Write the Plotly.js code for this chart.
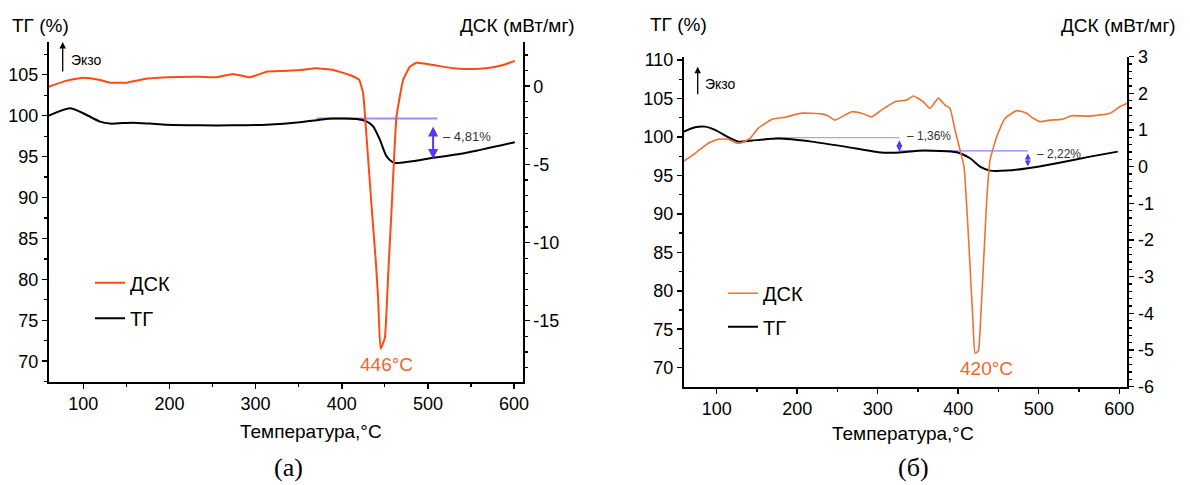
<!DOCTYPE html>
<html>
<head>
<meta charset="utf-8">
<script src="https://cdn.plot.ly/plotly-3.0.1.min.js"></script>
<style>html,body{margin:0;padding:0;background:#fff;}#chart{width:1190px;height:485px;}</style>
</head>
<body>
<div id="chart"></div>
<script>
// ---------- Panel (a) data ----------
const tempA_TG = [60, 84.6, 100, 119.4, 131, 157.6, 177.4, 196.7, 235.4, 273.9, 312.7, 351.4, 374.6, 390, 417.1, 428.7, 436.4, 444.2, 451.9, 460.8, 506, 544.7, 600.8];
const tgA = [100.0, 100.9, 100.3, 99.27, 99.03, 99.15, 99.03, 98.9, 98.82, 98.82, 98.9, 99.19, 99.5, 99.64, 99.6, 99.31, 98.7, 97.08, 95.05, 94.24, 94.85, 95.46, 96.75];
const tempA_DSC = [60, 80.7, 100, 119.4, 131, 150.3, 169.6, 196.7, 235.4, 254.7, 274, 293.4, 312.7, 332, 351.4, 370.8, 390, 409.4, 420.2, 424.8, 428.7, 434.5, 439.5, 442.2, 445, 450, 453.9, 455.8, 457.7, 463.5, 471.2, 479, 486.7, 506, 529.2, 544.7, 567.9, 587.2, 600.8];
const dscA = [-0.03, 0.36, 0.55, 0.4, 0.23, 0.23, 0.45, 0.57, 0.61, 0.57, 0.79, 0.57, 0.93, 0.98, 1.04, 1.15, 1.04, 0.72, 0.4, -0.45, -3.2, -7.6, -11.2, -13.6, -16.8, -16.1, -12.0, -10.0, -8.0, -1.94, 0.4, 1.25, 1.5, 1.36, 1.15, 1.1, 1.15, 1.36, 1.62];

// ---------- Panel (б) data ----------
const tempB_TG = [59.4, 73.1, 85.5, 97.9, 114.4, 126.9, 143.5, 176.5, 218, 259.4, 300.8, 321.5, 356.7, 398.2, 414.7, 427.1, 439.5, 460.3, 486.4, 522.4, 563.8, 598.2];
const tgB = [100.69, 101.26, 101.34, 100.91, 99.96, 99.39, 99.52, 99.78, 99.39, 98.74, 98.01, 97.95, 98.22, 98.01, 97.23, 96.14, 95.62, 95.62, 95.93, 96.58, 97.44, 98.09];
const tempB_DSC = [59.4, 73.1, 89.6, 102, 114.4, 124.9, 131.1, 141.4, 151.7, 168.3, 184.9, 205.6, 230.5, 238.7, 247.0, 267.7, 280.1, 292.6, 305, 321.5, 336, 344.2, 356.7, 365, 375.3, 383.6, 389.8, 396, 402.3, 407.2, 411.3, 414.7, 418, 420.9, 425, 428, 431.2, 435.4, 439.5, 447.8, 458.1, 472.6, 485, 493.3, 501.6, 514, 528.5, 540.9, 563.8, 588.6, 601, 610];
const dscB = [0.155, 0.365, 0.64, 0.75, 0.75, 0.64, 0.655, 0.775, 1.05, 1.29, 1.35, 1.46, 1.44, 1.38, 1.27, 1.5, 1.46, 1.36, 1.55, 1.77, 1.82, 1.93, 1.77, 1.59, 1.87, 1.68, 1.59, 1.0, 0.455, 0.0, -1.36, -2.73, -4.09, -5.09, -5.02, -4.09, -2.73, -0.91, 0.18, 0.82, 1.32, 1.53, 1.46, 1.32, 1.23, 1.27, 1.29, 1.39, 1.38, 1.46, 1.64, 1.73];

// ---------- Tick labels ----------
const dscTicksA = [0, -5, -10, -15];
const dscTickTextA = ['0', '-5', '-10', '-15'];
const dscTicksB = [3, 2, 1, 0, -1, -2, -3, -4, -5, -6];
const dscTickTextB = ['3', '2', '1', '0', '-1', '-2', '-3', '-4', '-5', '-6'];

// ---------- Annotation values ----------
const peakA = {t: 446, label: '446°C'};
const peakB = {t: 420, label: '420°C'};
const stepA = {t0: 370.8, t1: 511, level: 99.64, arrowT: 506, arrowTop: 98.87, arrowBot: 94.7, label: '– 4,81%'};
const stepB1 = {t0: 172.4, t1: 326.9, level: 99.9, arrowT: 326.9, arrowTop: 99.75, arrowBot: 98.09, label: '– 1,36%'};
const stepB2 = {t0: 326.9, t1: 486.4, level: 98.18, arrowT: 486.4, arrowTop: 98.05, arrowBot: 96.14, label: '– 2,22%'};

const W = 1190, H = 485;
const px = v => v / W;
const py = v => 1 - v / H;

const FONT = 'Liberation Sans, Arial, sans-serif';
const orangeA = '#FF4A12';
const orangeB = '#F07232';
const purple = '#5B36F2';
const purpleLine = '#9E88FF';

const traces = [
  {x: tempA_DSC, y: dscA, xaxis: 'x', yaxis: 'y2', type: 'scatter', mode: 'lines', name: 'ДСК',
   line: {color: orangeA, width: 2, shape: 'spline', smoothing: 0.35}, legend: 'legend'},
  {x: tempA_TG, y: tgA, xaxis: 'x', yaxis: 'y', type: 'scatter', mode: 'lines', name: 'ТГ',
   line: {color: '#000', width: 2, shape: 'spline', smoothing: 0.6}, legend: 'legend2'},
  {x: tempB_DSC, y: dscB, xaxis: 'x2', yaxis: 'y4', type: 'scatter', mode: 'lines', name: 'ДСК',
   line: {color: orangeB, width: 1.6, shape: 'spline', smoothing: 0.4}, legend: 'legend3'},
  {x: tempB_TG, y: tgB, xaxis: 'x2', yaxis: 'y3', type: 'scatter', mode: 'lines', name: 'ТГ',
   line: {color: '#000', width: 2, shape: 'spline', smoothing: 0.6}, legend: 'legend4'}
];

const tickFont = {family: FONT, size: 18, color: '#000'};
function xAxis(domain, range, anchor) {
  return {domain, range, anchor, showline: true, linewidth: 2, linecolor: '#000', mirror: false,
    ticks: 'outside', ticklen: 5, tickwidth: 1.5, tickcolor: '#000', tick0: 0, dtick: 100,
    minor: {ticks: 'outside', ticklen: 3, tickwidth: 1.2, tickcolor: '#000', dtick: 50},
    showgrid: false, zeroline: false, tickfont: tickFont, fixedrange: true};
}
function yLeft(domain, range, anchor) {
  return {domain, range, anchor, side: 'left', showline: true, linewidth: 2, linecolor: '#000',
    ticks: 'outside', ticklen: 5, tickwidth: 1.5, tickcolor: '#000', tick0: 0, dtick: 5,
    minor: {ticks: 'outside', ticklen: 3, tickwidth: 1.2, tickcolor: '#000', dtick: 2.5},
    showgrid: false, zeroline: false, tickfont: tickFont, fixedrange: true};
}
function yRight(overlay, range, anchor, vals, text, minorDtick) {
  return {overlaying: overlay, side: 'right', anchor, range, showline: true, linewidth: 2, linecolor: '#000',
    ticks: 'outside', ticklen: 5, tickwidth: 1.5, tickcolor: '#000', tickmode: 'array', tickvals: vals, ticktext: text,
    minor: {ticks: 'outside', ticklen: 3, tickwidth: 1.2, tickcolor: '#000', tickmode: 'linear', tick0: 0, dtick: minorDtick},
    showgrid: false, zeroline: false, tickfont: tickFont, fixedrange: true};
}

function legendAt(xp, yp) {
  return {x: px(xp), y: py(yp), xanchor: 'left', yanchor: 'middle', bgcolor: 'rgba(0,0,0,0)',
    borderwidth: 0, font: {family: FONT, size: 20, color: '#000'}};
}

const titleFont = {family: FONT, size: 19, color: '#000'};
const annotations = [
  // axis titles
  {xref: 'paper', yref: 'paper', x: px(10), y: py(25), xanchor: 'left', yanchor: 'middle', text: 'ТГ (%)', showarrow: false, font: titleFont},
  {xref: 'paper', yref: 'paper', x: px(577), y: py(25), xanchor: 'right', yanchor: 'middle', text: 'ДСК (мВт/мг)', showarrow: false, font: titleFont},
  {xref: 'paper', yref: 'paper', x: px(311), y: py(431), xanchor: 'center', yanchor: 'middle', text: 'Температура,°C', showarrow: false, font: {family: FONT, size: 19, color: '#000'}},
  {xref: 'paper', yref: 'paper', x: px(648), y: py(24), xanchor: 'left', yanchor: 'middle', text: 'ТГ (%)', showarrow: false, font: titleFont},
  {xref: 'paper', yref: 'paper', x: px(1178), y: py(25), xanchor: 'right', yanchor: 'middle', text: 'ДСК (мВт/мг)', showarrow: false, font: titleFont},
  {xref: 'paper', yref: 'paper', x: px(903), y: py(433), xanchor: 'center', yanchor: 'middle', text: 'Температура,°C', showarrow: false, font: {family: FONT, size: 19, color: '#000'}},
  // panel labels
  {xref: 'paper', yref: 'paper', x: px(288), y: py(467), xanchor: 'center', yanchor: 'middle', text: '(a)', showarrow: false, font: {family: 'Liberation Serif, Times New Roman, serif', size: 26, color: '#000'}},
  {xref: 'paper', yref: 'paper', x: px(913), y: py(467), xanchor: 'center', yanchor: 'middle', text: '(б)', showarrow: false, font: {family: 'Liberation Serif, Times New Roman, serif', size: 26, color: '#000'}},
  // Exo arrows
  {xref: 'paper', yref: 'paper', x: px(62.7), y: py(42), axref: 'pixel', ayref: 'pixel', ax: 0, ay: 31, text: '', showarrow: true, arrowhead: 2, arrowsize: 1, arrowwidth: 1.3, arrowcolor: '#000'},
  {xref: 'paper', yref: 'paper', x: px(69), y: py(60), xanchor: 'left', yanchor: 'middle', text: 'Экзо', showarrow: false, font: {family: FONT, size: 14, color: '#000'}},
  {xref: 'paper', yref: 'paper', x: px(697.7), y: py(66.7), axref: 'pixel', ayref: 'pixel', ax: 0, ay: 29, text: '', showarrow: true, arrowhead: 2, arrowsize: 1, arrowwidth: 1.3, arrowcolor: '#000'},
  {xref: 'paper', yref: 'paper', x: px(703), y: py(84), xanchor: 'left', yanchor: 'middle', text: 'Экзо', showarrow: false, font: {family: FONT, size: 14, color: '#000'}},
  // peak labels
  {xref: 'x', yref: 'y2', x: peakA.t + 6, y: -17.8, text: peakA.label, showarrow: false, xanchor: 'center', yanchor: 'middle', font: {family: FONT, size: 19, color: '#F0682E'}},
  {xref: 'x2', yref: 'y4', x: peakB.t + 15.4, y: -5.5, text: peakB.label, showarrow: false, xanchor: 'center', yanchor: 'middle', font: {family: FONT, size: 19, color: '#F0682E'}},
  // step arrows
  {xref: 'x', yref: 'y', axref: 'x', ayref: 'y', x: stepA.arrowT, y: stepA.arrowBot, ax: stepA.arrowT, ay: stepA.arrowTop, text: '', showarrow: true, arrowhead: 2, startarrowhead: 2, arrowside: 'end+start', arrowsize: 1, arrowwidth: 2, arrowcolor: purple},
  {xref: 'x', yref: 'y', x: stepA.t1 + 4, y: 97.48, text: stepA.label, showarrow: false, xanchor: 'left', yanchor: 'middle', font: {family: FONT, size: 13, color: '#333'}},
  {xref: 'x2', yref: 'y3', axref: 'x2', ayref: 'y3', x: stepB1.arrowT, y: stepB1.arrowBot, ax: stepB1.arrowT, ay: stepB1.arrowTop, text: '', showarrow: true, arrowhead: 2, startarrowhead: 2, arrowside: 'end+start', arrowsize: 0.8, arrowwidth: 1.5, arrowcolor: purple},
  {xref: 'x2', yref: 'y3', x: stepB1.t1 + 7, y: 100.13, text: stepB1.label, showarrow: false, xanchor: 'left', yanchor: 'middle', font: {family: FONT, size: 12, color: '#333'}},
  {xref: 'x2', yref: 'y3', axref: 'x2', ayref: 'y3', x: stepB2.arrowT, y: stepB2.arrowBot, ax: stepB2.arrowT, ay: stepB2.arrowTop, text: '', showarrow: true, arrowhead: 2, startarrowhead: 2, arrowside: 'end+start', arrowsize: 0.8, arrowwidth: 1.5, arrowcolor: purple},
  {xref: 'x2', yref: 'y3', x: stepB2.t1 + 9, y: 97.79, text: stepB2.label, showarrow: false, xanchor: 'left', yanchor: 'middle', font: {family: FONT, size: 12, color: '#333'}}
];

const shapes = [
  {type: 'line', xref: 'x', yref: 'y', x0: stepA.t0, x1: stepA.t1, y0: stepA.level, y1: stepA.level, line: {color: purpleLine, width: 2}, layer: 'below'},
  {type: 'line', xref: 'x2', yref: 'y3', x0: stepB1.t0, x1: stepB1.t1, y0: stepB1.level, y1: stepB1.level, line: {color: '#ABA0FF', width: 1.2}, layer: 'below'},
  {type: 'line', xref: 'x2', yref: 'y3', x0: stepB2.t0, x1: stepB2.t1, y0: stepB2.level, y1: stepB2.level, line: {color: '#8F7CFF', width: 1.2}, layer: 'below'}
];

const layout = {
  width: W, height: H,
  margin: {l: 0, r: 0, t: 0, b: 0},
  paper_bgcolor: '#fff', plot_bgcolor: '#fff',
  font: {family: FONT, color: '#000'},
  showlegend: true,
  xaxis: xAxis([px(49), px(522.7)], [60.2, 610], 'y'),
  yaxis: yLeft([1 - 381.7 / H, 1 - 42 / H], [67.5, 109], 'x'),
  yaxis2: yRight('y', [-18.9, 2.83], 'x', dscTicksA, dscTickTextA, 1),
  xaxis2: xAxis([px(684), px(1127.3)], [59.4, 610], 'y3'),
  yaxis3: yLeft([1 - 386.7 / H, 1 - 56.7 / H], [67.53, 110.43], 'x2'),
  yaxis4: yRight('y3', [-6, 3], 'x2', dscTicksB, dscTickTextB, 0.2),
  legend: legendAt(90, 282.7),
  legend2: legendAt(90, 318.3),
  legend3: legendAt(723, 293.3),
  legend4: legendAt(723, 326.7),
  annotations, shapes
};

Plotly.newPlot('chart', traces, layout, {staticPlot: true, displayModeBar: false});
</script>
</body>
</html>
